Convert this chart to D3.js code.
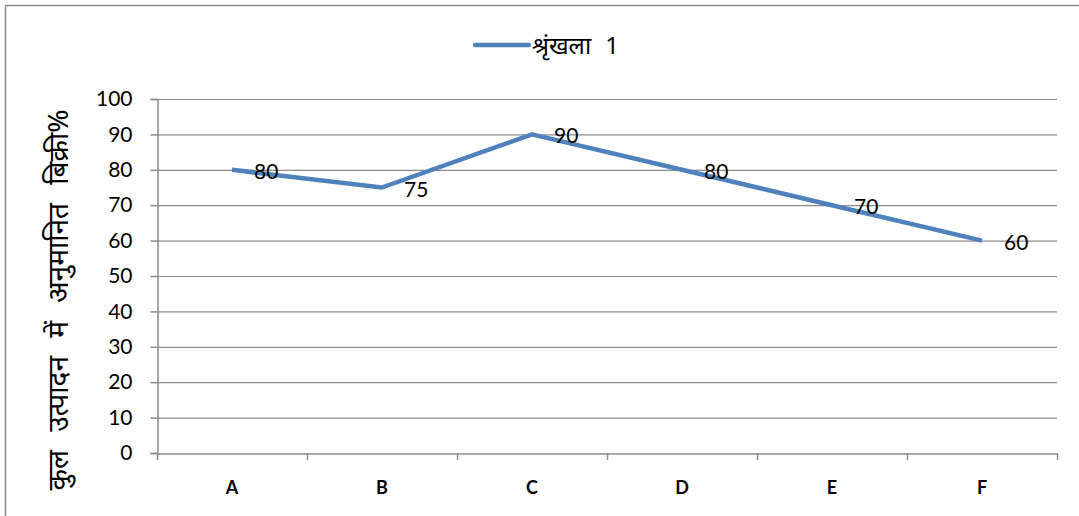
<!DOCTYPE html>
<html>
<head>
<meta charset="utf-8">
<script src="https://cdn.jsdelivr.net/npm/d3@7"></script>
<style>
  body { margin: 0; background: #fff; }
  #chart { width: 1079px; height: 516px; }
  .tick text { font-family: Lato, "Open Sans", sans-serif; }
</style>
</head>
<body>
<div id="chart"></div>
<script>
const categories = ["A", "B", "C", "D", "E", "F"];
const values = [80, 75, 90, 80, 70, 60];
const yTicks = [0, 10, 20, 30, 40, 50, 60, 70, 80, 90, 100];
const seriesName = "श्रृंखला 1";
const yTitle = "कुल उत्पादन में अनुमानित बिक्री%";

const width = 1079, height = 516;
const margin = {top: 99, left: 157, right: 22, bottom: 63};

const svg = d3.select("#chart")
    .append("svg")
    .attr("width", width)
    .attr("height", height);

// outer frame (only top and left visible)
svg.append("rect")
    .attr("x", 5.5).attr("y", 5.5)
    .attr("width", width + 10).attr("height", height + 10)
    .attr("fill", "none")
    .attr("stroke", "#8c8c8c")
    .attr("stroke-width", 1.5);

const xScale = d3.scaleBand()
    .domain(categories)
    .range([margin.left, width - margin.right]);

const yScale = d3.scaleLinear()
    .domain([0, 100])
    .range([height - margin.bottom, margin.top]);

// gridlines
svg.append("g")
    .selectAll("line")
    .data(yTicks.slice(1))
    .enter()
    .append("line")
        .attr("x1", margin.left)
        .attr("x2", width - margin.right)
        .attr("y1", d => yScale(d) + 0.5)
        .attr("y2", d => yScale(d) + 0.5)
        .attr("stroke", "#8c8c8c")
        .attr("stroke-width", 1.2);

/* Axes */
const yAxis = svg.append("g")
    .attr("transform", `translate(${margin.left + 0.5},0)`)
    .call(d3.axisLeft(yScale).tickValues(yTicks).tickSize(7).tickPadding(18));

const xAxis = svg.append("g")
    .attr("transform", `translate(0,${height - margin.bottom + 0.5})`)
    .call(d3.axisBottom(xScale).tickSize(0).tickPadding(28));

// x tick marks at band edges
svg.append("g")
    .selectAll("line")
    .data(categories.concat(["end"]))
    .enter()
    .append("line")
        .attr("x1", (d, i) => margin.left + i * xScale.step() + 0.5)
        .attr("x2", (d, i) => margin.left + i * xScale.step() + 0.5)
        .attr("y1", height - margin.bottom)
        .attr("y2", height - margin.bottom + 7)
        .attr("stroke", "#8c8c8c")
        .attr("stroke-width", 1.5);

[xAxis, yAxis].forEach(function(ax) {
    ax.selectAll(".domain, .tick line")
        .attr("stroke", "#8c8c8c")
        .attr("stroke-width", 1.5);
    ax.selectAll("text").attr("fill", "#000");
});
yAxis.selectAll("text").attr("font-size", 21);
xAxis.selectAll("text").attr("font-size", 18).attr("font-weight", "bold");

/* Line */
const line = d3.line()
    .x((d, i) => xScale(categories[i]) + xScale.bandwidth() / 2)
    .y(d => yScale(d));

svg.append("path")
    .datum(values)
    .attr("d", line)
    .attr("fill", "none")
    .attr("stroke", "#4f81bd")
    .attr("stroke-width", 4.5)
    .attr("stroke-linejoin", "round");

/* Data labels */
svg.selectAll(".dataLabel")
    .data(values)
    .enter()
    .append("text")
        .attr("class", "dataLabel")
        .attr("x", (d, i) => xScale(categories[i]) + xScale.bandwidth() / 2 + 22)
        .attr("y", d => yScale(d) + 9)
        .attr("font-family", "Lato, 'Open Sans', sans-serif")
        .attr("font-size", 21)
        .attr("fill", "#000")
        .text(d => d);

/* Legend */
svg.append("line")
    .attr("x1", 475).attr("x2", 529)
    .attr("y1", 45).attr("y2", 45)
    .attr("stroke", "#4f81bd")
    .attr("stroke-width", 4.5)
    .attr("stroke-linecap", "round");

svg.append("text")
    .attr("x", 532)
    .attr("y", 54)
    .attr("font-family", "'Noto Sans', sans-serif")
    .attr("font-size", 24)
    .attr("word-spacing", 8)
    .attr("fill", "#000")
    .text(seriesName);

/* Y axis title */
svg.append("text")
    .attr("transform", `translate(68,${(margin.top + height - margin.bottom) / 2 + 24}) rotate(-90)`)
    .attr("text-anchor", "middle")
    .attr("font-family", "'Noto Sans', sans-serif")
    .attr("font-size", 28)
    .attr("word-spacing", 11)
    .attr("fill", "#000")
    .text(yTitle);
</script>
</body>
</html>
